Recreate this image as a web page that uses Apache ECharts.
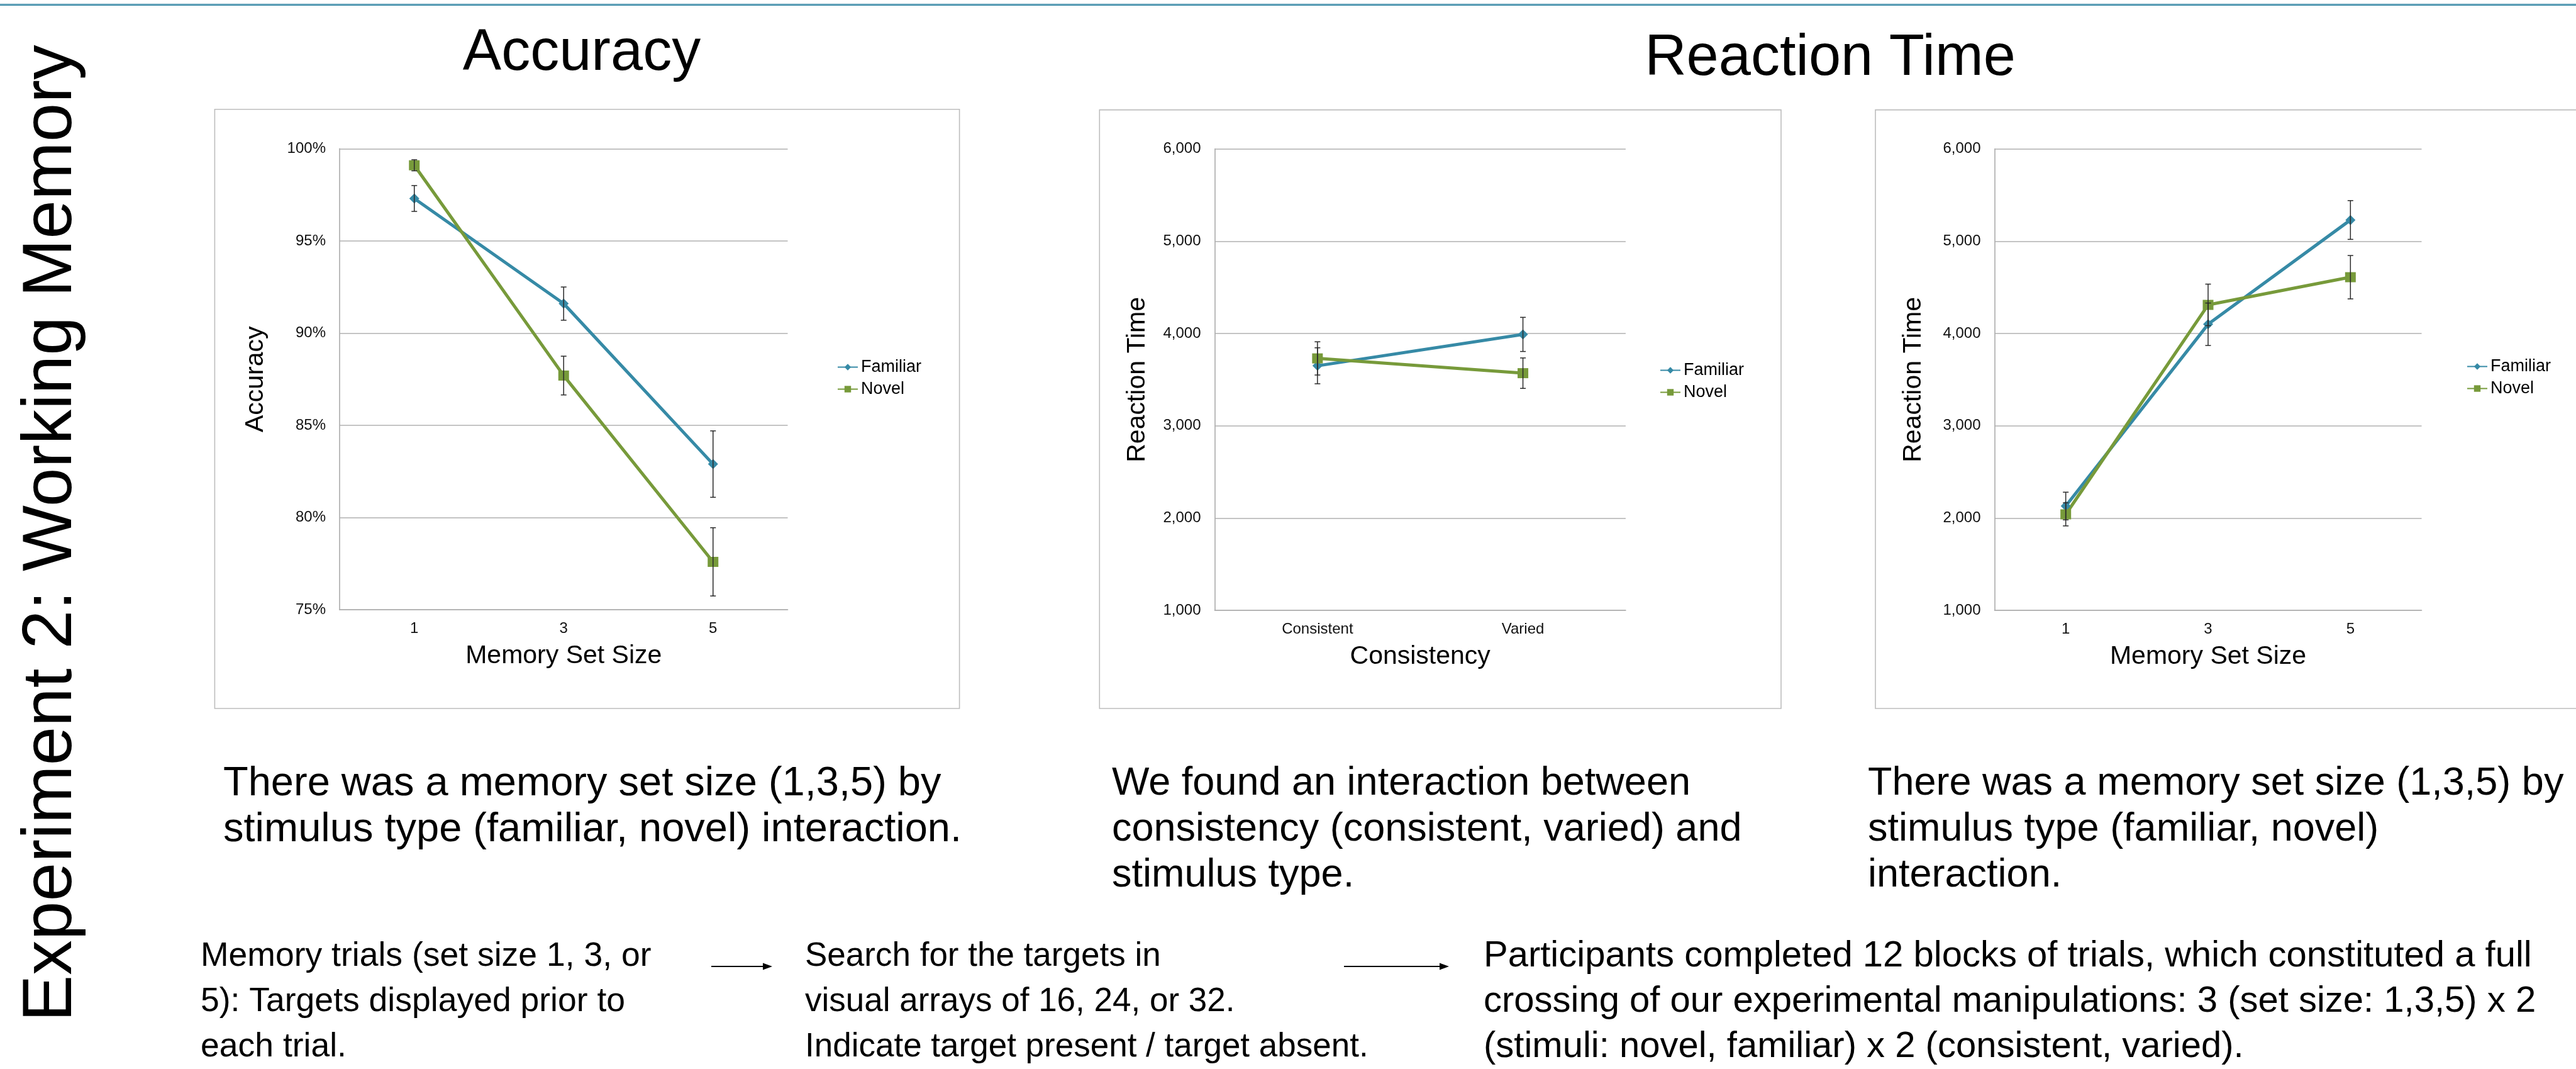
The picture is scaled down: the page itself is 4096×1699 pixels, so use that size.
<!DOCTYPE html>
<html><head><meta charset="utf-8">
<script src="https://cdn.jsdelivr.net/npm/echarts@6/dist/echarts.min.js"></script>
<style>html,body{margin:0;padding:0;background:#fff;overflow:hidden}#c{width:4096px;height:1699px}</style>
</head><body><div id="c"></div>
<script>
// ---------- data ----------
const seriesNames = ['Familiar', 'Novel'];
const setSizes = ['1', '3', '5'];
const consistencyCats = ['Consistent', 'Varied'];

const accFamiliar = [97.3, 91.6, 82.9];
const accFamiliarErr = [0.7, 0.9, 1.8];
const accNovel = [99.1, 87.7, 77.6];
const accNovelErr = [0.3, 1.05, 1.85];

const rtConsFamiliar = [3650, 3990];
const rtConsFamiliarErr = [195, 185];
const rtConsNovel = [3730, 3570];
const rtConsNovelErr = [180, 165];

const rtSetFamiliar = [2130, 4100, 5230];
const rtSetFamiliarErr = [150, 230, 210];
const rtSetNovel = [2040, 4310, 4610];
const rtSetNovelErr = [125, 225, 235];

const accAxis = { min: 75, max: 100, interval: 5 };
const rtAxis = { min: 1000, max: 6000, interval: 1000 };

const pageTitle = 'Experiment 2: Working Memory';
const panelTitles = ['Accuracy', 'Reaction Time'];
const noteA = ['There was a memory set size (1,3,5) by', 'stimulus type (familiar, novel) interaction.'];
const noteB = ['We found an interaction between', 'consistency (consistent, varied) and', 'stimulus type.'];
const noteC = ['There was a memory set size (1,3,5) by', 'stimulus type (familiar, novel)', 'interaction.'];
const stepA = ['Memory trials (set size 1, 3, or', '5): Targets displayed prior to', 'each trial.'];
const stepB = ['Search for the targets in', 'visual arrays of 16, 24, or 32.', 'Indicate target present / target absent.'];
const stepC = ['Participants completed 12 blocks of trials, which constituted a full',
  'crossing of our experimental manipulations: 3 (set size: 1,3,5) x 2',
  '(stimuli: novel, familiar) x 2 (consistent, varied).'];

// ---------- styles ----------
const FONT = "'Liberation Sans', Arial, Helvetica, sans-serif";
const FAM = '#368aa6';
const NOV = '#779a3a';
const GRIDC = '#b0b0b0';

const grids = [
  { left: 540, top: 236.3, width: 712.5, height: 732.9 },
  { left: 1931.5, top: 236.7, width: 653.4, height: 733.3 },
  { left: 3171.5, top: 236.7, width: 679, height: 733.3 }
];

function xAxisCfg(gi, cats, name) {
  return {
    gridIndex: gi, type: 'category', data: cats, boundaryGap: true,
    axisLine: { show: true, lineStyle: { color: GRIDC, width: 1.7 } },
    axisTick: { show: false },
    axisLabel: { margin: 18, fontSize: 24, color: '#111', fontFamily: FONT },
    name: name, nameLocation: 'middle', nameGap: 53,
    nameTextStyle: { fontSize: 41, color: '#000', fontFamily: FONT }
  };
}
function yAxisCfg(gi, rng, name, gap, fmt) {
  return {
    gridIndex: gi, type: 'value', min: rng.min, max: rng.max, interval: rng.interval,
    axisLine: { show: true, lineStyle: { color: GRIDC, width: 1.7 } },
    axisTick: { show: false },
    splitLine: { show: true, lineStyle: { color: GRIDC, width: 1.7 } },
    axisLabel: { margin: 22, fontSize: 24, color: '#111', fontFamily: FONT, formatter: fmt },
    name: name, nameLocation: 'middle', nameGap: gap, nameRotate: 90,
    nameTextStyle: { fontSize: 41, color: '#000', fontFamily: FONT }
  };
}
function lineSeries(gi, name, vals) {
  const isF = name === 'Familiar';
  const col = isF ? FAM : NOV;
  return {
    type: 'line', name: name, xAxisIndex: gi, yAxisIndex: gi, data: vals,
    symbol: isF ? 'diamond' : 'rect', symbolSize: isF ? [16, 16] : [17, 16],
    showSymbol: true, lineStyle: { width: 5, color: col }, itemStyle: { color: col },
    z: 3, animation: false
  };
}
function errSeries(gi, vals, errs) {
  return {
    type: 'custom', xAxisIndex: gi, yAxisIndex: gi, z: 6, silent: true, animation: false,
    data: vals.map((v, i) => [i, v - errs[i], v + errs[i]]),
    encode: { x: 0, y: [1, 2] },
    renderItem: function (params, api) {
      const lo = api.coord([api.value(0), api.value(1)]);
      const hi = api.coord([api.value(0), api.value(2)]);
      const w = 4.5;
      const st = { stroke: '#2a2a2a', lineWidth: 1.5 };
      return {
        type: 'group', children: [
          { type: 'line', shape: { x1: lo[0], y1: lo[1], x2: hi[0], y2: hi[1] }, style: st },
          { type: 'line', shape: { x1: lo[0] - w, y1: lo[1], x2: lo[0] + w, y2: lo[1] }, style: st },
          { type: 'line', shape: { x1: hi[0] - w, y1: hi[1], x2: hi[0] + w, y2: hi[1] }, style: st }
        ]
      };
    }
  };
}
function legendCfg(left, top) {
  return {
    orient: 'vertical', left: left, top: top, padding: 0, itemGap: 8,
    itemWidth: 32, itemHeight: 13, data: seriesNames,
    textStyle: { fontSize: 27, color: '#000', fontFamily: FONT }
  };
}
const thousands = v => v.toLocaleString('en-US');

// ---------- graphic (page texts, frames) ----------
function txt(x, y, s, size, align, rot) {
  return {
    type: 'text', x: x, y: y, rotation: rot || 0, silent: true,
    style: { text: s, fontSize: size, fontFamily: FONT, fill: '#000',
      align: align || 'left', verticalAlign: 'middle',
      textAlign: align || 'left', textVerticalAlign: 'middle' }
  };
}
function block(lines, x, y0, dy, size) {
  return lines.map((s, i) => txt(x, y0 + i * dy, s, size, 'left'));
}
function arrow(x1, x2, y) {
  return [
    { type: 'line', silent: true, shape: { x1: x1, y1: y, x2: x2 - 10, y2: y }, style: { stroke: '#000', lineWidth: 2.2 } },
    { type: 'polygon', silent: true, shape: { points: [[x2, y], [x2 - 15, y - 5.5], [x2 - 15, y + 5.5]] }, style: { fill: '#000' } }
  ];
}
function frame(x, y, w, h) {
  return { type: 'rect', silent: true, z: -1, shape: { x: x, y: y, width: w, height: h },
    style: { fill: 'none', stroke: '#bdbdbd', lineWidth: 1.6 } };
}

const graphics = [].concat(
  [
    { type: 'rect', silent: true, shape: { x: 0, y: 5, width: 4096, height: 1.2 }, style: { fill: '#cfe1e9' } },
    { type: 'rect', silent: true, shape: { x: 0, y: 6.5, width: 4096, height: 2.6 }, style: { fill: '#3d8ca8' } },
    frame(341.4, 173.8, 1184.2, 952.2),
    frame(1748.3, 174.6, 1083.7, 951.4),
    frame(2982, 174.6, 1200, 951.4),
    txt(82, 847.5, pageTitle, 111, 'center', Math.PI / 2),
    txt(925, 86, panelTitles[0], 92, 'center'),
    txt(2910, 93.5, panelTitles[1], 92, 'center')
  ],
  block(noteA, 355, 1246, 73, 65),
  block(noteB, 1768, 1246, 73, 63),
  block(noteC, 2970, 1246, 73, 63),
  block(stepA, 319, 1520, 72, 53.5),
  block(stepB, 1280, 1520, 72, 53),
  block(stepC, 2359, 1520, 72, 58),
  arrow(1131, 1228, 1536),
  arrow(2137, 2304, 1536)
);

const chart = echarts.init(document.getElementById('c'), null, { renderer: 'canvas', width: 4096, height: 1699 });
chart.setOption({
  backgroundColor: '#ffffff',
  animation: false,
  textStyle: { fontFamily: FONT },
  grid: grids,
  xAxis: [
    xAxisCfg(0, setSizes, 'Memory Set Size'),
    xAxisCfg(1, consistencyCats, 'Consistency'),
    xAxisCfg(2, setSizes, 'Memory Set Size')
  ],
  yAxis: [
    yAxisCfg(0, accAxis, 'Accuracy', 113, '{value}%'),
    yAxisCfg(1, rtAxis, 'Reaction Time', 102, thousands),
    yAxisCfg(2, rtAxis, 'Reaction Time', 108, thousands)
  ],
  legend: [legendCfg(1331, 570), legendCfg(2639, 575), legendCfg(3922, 569)],
  series: [
    lineSeries(0, 'Familiar', accFamiliar),
    lineSeries(0, 'Novel', accNovel),
    errSeries(0, accFamiliar, accFamiliarErr),
    errSeries(0, accNovel, accNovelErr),
    lineSeries(1, 'Familiar', rtConsFamiliar),
    lineSeries(1, 'Novel', rtConsNovel),
    errSeries(1, rtConsFamiliar, rtConsFamiliarErr),
    errSeries(1, rtConsNovel, rtConsNovelErr),
    lineSeries(2, 'Familiar', rtSetFamiliar),
    lineSeries(2, 'Novel', rtSetNovel),
    errSeries(2, rtSetFamiliar, rtSetFamiliarErr),
    errSeries(2, rtSetNovel, rtSetNovelErr)
  ],
  graphic: graphics
});
</script>
</body></html>
